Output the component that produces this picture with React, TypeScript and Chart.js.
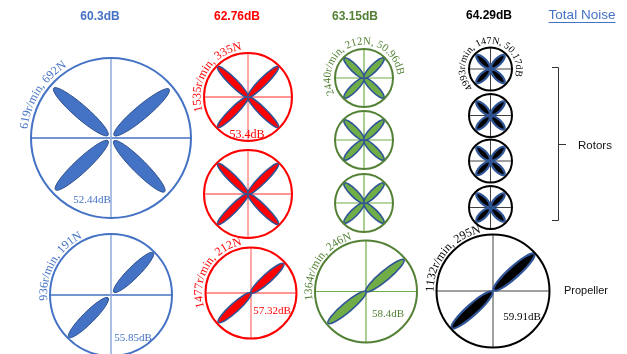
import React, { useEffect, useRef } from 'react';
import { Chart, registerables } from 'chart.js';
Chart.register(...registerables);

const W = 627;
const H = 354;

// ---- data ----
const totalNoise = [60.3, 62.76, 63.15, 64.29];
const rotorCount = [1, 2, 3, 4];
const rotorSpeed = [619, 1535, 2440, 4993];
const rotorThrust = [692, 335, 212, 147];
const rotorNoise = [52.44, 53.4, 50.96, 50.17];
const propSpeed = [936, 1477, 1364, 1132];
const propThrust = [191, 212, 246, 295];
const propNoise = [55.85, 57.32, 58.4, 59.91];
const sideLabels = ['Total Noise', 'Rotors', 'Propeller'];

// ---- styles ----
const styles = [
  { main: '#4472C4', text: '#4472C4', crossH: '#4472C4', crossV: '#8FAADC', crossW: 1.5, fill: '#4472C4', stroke: '#2F528F', bladeLW: 1 },
  { main: '#FF0000', text: '#FF0000', crossH: '#FF2A2A', crossV: '#FF5050', crossW: 1, fill: '#FF0000', stroke: '#2F5597', bladeLW: 1.6 },
  { main: '#538135', text: '#538135', crossH: '#70AD47', crossV: '#70AD47', crossW: 1.2, fill: '#70AD47', stroke: '#2F5597', bladeLW: 1.6 },
  { main: '#000000', text: '#000000', crossH: '#404040', crossV: '#404040', crossW: 1, fill: '#000000', stroke: '#2F5597', bladeLW: 2.2 },
];

// ---- layout (in chart units, 1 unit = 1px) ----
const headerPos = [
  { x: 100, y: 17 },
  { x: 237, y: 17 },
  { x: 355, y: 17 },
  { x: 489, y: 16 },
];
const rotorLayout = [
  { x: 111, ys: [138], r: 80, r0: 4, r1: 76, hw: 6.8, angles: [45, 137, 221, 320],
    label: { start: 186, rad: 84, size: 12 }, dB: { x: 92, y: 200, size: 11 } },
  { x: 248, ys: [97, 194], r: 44, r0: 0, r1: 43, hw: 3.9, angles: [45, 135, 225, 315],
    label: { start: 163, rad: 47.5, size: 12 }, dB: { x: 247, y: 135, size: 12 } },
  { x: 364, ys: [78, 140, 203], r: 29, r0: 0, r1: 28, hw: 3.6, angles: [45, 135, 225, 315],
    label: { start: 152, rad: 33.5, size: 11 }, dB: null },
  { x: 490.5, ys: [69, 115.5, 161, 207.5], r: 21.5, r0: 1.5, r1: 19.5, hw: 3.3, angles: [45, 135, 225, 315],
    label: { start: 134, rad: 25.5, size: 10 }, dB: null },
];
const propLayout = [
  { x: 111, y: 295, r: 61, r0: 4, r1: 60, hw: 5.8, angles: [-45, 135],
    label: { start: 175, rad: 64, size: 12 }, dB: { x: 133, y: 338, size: 11 } },
  { x: 251, y: 293, r: 45.5, r0: 0, r1: 44, hw: 4.4, angles: [-42, 138],
    label: { start: 163, rad: 49, size: 12 }, dB: { x: 272, y: 311, size: 11 } },
  { x: 366, y: 291.5, r: 51, r0: 0, r1: 49.5, hw: 4.8, angles: [-40, 140],
    label: { start: 171, rad: 54, size: 11.5 }, dB: { x: 388, y: 314, size: 11 } },
  { x: 493, y: 291, r: 56.5, r0: 1, r1: 55.5, hw: 5.4, angles: [-42, 138],
    label: { start: 179, rad: 59.5, size: 12 }, dB: { x: 522, y: 317, size: 11 } },
];
const sidePos = [
  { x: 582, y: 15, size: 13.5 },
  { x: 595, y: 146, size: 11.5 },
  { x: 586, y: 291, size: 11 },
];
const bracket = { x: 558, top: 67, bottom: 220, mid: 144, tickIn: 552, tickOut: 566 };

const SERIF = '"Liberation Serif", "Times New Roman", serif';
const SANS = '"Liberation Sans", Arial, sans-serif';

function arcText(ctx: CanvasRenderingContext2D, text: string, cx: number, cy: number, rad: number, startDeg: number, font: string, color: string) {
  ctx.save();
  ctx.font = font;
  ctx.fillStyle = color;
  ctx.textAlign = 'center';
  ctx.textBaseline = 'alphabetic';
  let ang = (startDeg * Math.PI) / 180;
  for (const ch of text) {
    const w = ctx.measureText(ch).width;
    const a = ang + w / 2 / rad;
    ctx.save();
    ctx.translate(cx, cy);
    ctx.rotate(a + Math.PI / 2);
    ctx.fillText(ch, 0, -rad);
    ctx.restore();
    ang += w / rad;
  }
  ctx.restore();
}

export default function App() {
  const ref = useRef<HTMLCanvasElement | null>(null);

  useEffect(() => {
    document.body.style.margin = '0';
    const canvas = ref.current;
    if (!canvas) return;

    const datasets = styles.map((st, i) => {
      const pts: any[] = rotorLayout[i].ys.slice(0, rotorCount[i]).map((y) => ({ x: rotorLayout[i].x, y, r: rotorLayout[i].r }));
      pts.push({ x: propLayout[i].x, y: propLayout[i].y, r: propLayout[i].r });
      return {
        label: `group${i}`,
        data: pts,
        showLine: false,
        clip: false,
        pointRadius: (c: any) => (c.raw ? c.raw.r : 0),
        pointHoverRadius: (c: any) => (c.raw ? c.raw.r : 0),
        pointBorderWidth: 2,
        pointHoverBorderWidth: 2,
        pointBorderColor: st.main,
        pointBackgroundColor: 'rgba(0,0,0,0)',
      };
    });

    const diagram = {
      id: 'diagram',
      beforeDatasetsDraw(chart: any) {
        const ctx: CanvasRenderingContext2D = chart.ctx;
        const xs = chart.scales.x;
        const ysc = chart.scales.y;
        const X = (v: number) => xs.getPixelForValue(v);
        const Y = (v: number) => ysc.getPixelForValue(v);
        const S = (l: number) => X(l) - X(0);

        const cross = (cx: number, cy: number, r: number, st: any) => {
          ctx.save();
          ctx.lineWidth = st.crossW;
          ctx.strokeStyle = st.crossH;
          ctx.beginPath();
          ctx.moveTo(X(cx - r), Y(cy));
          ctx.lineTo(X(cx + r), Y(cy));
          ctx.stroke();
          ctx.strokeStyle = st.crossV;
          ctx.beginPath();
          ctx.moveTo(X(cx), Y(cy - r));
          ctx.lineTo(X(cx), Y(cy + r));
          ctx.stroke();
          ctx.restore();
        };
        const blades = (cx: number, cy: number, lay: any, st: any) => {
          for (const deg of lay.angles) {
            const t = (deg * Math.PI) / 180;
            const m = (lay.r0 + lay.r1) / 2;
            const a = (lay.r1 - lay.r0) / 2;
            ctx.save();
            ctx.beginPath();
            ctx.ellipse(X(cx + m * Math.cos(t)), Y(cy + m * Math.sin(t)), S(a), S(lay.hw), t, 0, Math.PI * 2);
            ctx.fillStyle = st.fill;
            ctx.fill();
            ctx.lineWidth = st.bladeLW;
            ctx.strokeStyle = st.stroke;
            ctx.stroke();
            ctx.restore();
          }
        };

        styles.forEach((st, i) => {
          const rl = rotorLayout[i];
          rl.ys.slice(0, rotorCount[i]).forEach((y) => {
            cross(rl.x, y, rl.r, st);
          });
          rl.ys.slice(0, rotorCount[i]).forEach((y) => {
            blades(rl.x, y, rl, st);
          });
          const pl = propLayout[i];
          cross(pl.x, pl.y, pl.r, st);
          blades(pl.x, pl.y, pl, st);
        });
      },
      afterDatasetsDraw(chart: any) {
        const ctx: CanvasRenderingContext2D = chart.ctx;
        const xs = chart.scales.x;
        const ysc = chart.scales.y;
        const X = (v: number) => xs.getPixelForValue(v);
        const Y = (v: number) => ysc.getPixelForValue(v);
        const S = (l: number) => X(l) - X(0);

        ctx.save();
        // headers
        styles.forEach((st, i) => {
          ctx.font = `bold 12px ${SANS}`;
          ctx.fillStyle = st.text;
          ctx.textAlign = 'center';
          ctx.textBaseline = 'middle';
          ctx.fillText(`${totalNoise[i]}dB`, X(headerPos[i].x), Y(headerPos[i].y));
        });

        // curved labels + dB labels
        styles.forEach((st, i) => {
          const rl = rotorLayout[i];
          const rText = rl.dB
            ? `${rotorSpeed[i]}r/min, ${rotorThrust[i]}N`
            : `${rotorSpeed[i]}r/min, ${rotorThrust[i]}N, ${rotorNoise[i]}dB`;
          arcText(ctx, rText, X(rl.x), Y(rl.ys[0]), S(rl.label.rad), rl.label.start, `${rl.label.size}px ${SERIF}`, st.text);
          if (rl.dB) {
            ctx.font = `${rl.dB.size}px ${SERIF}`;
            ctx.fillStyle = st.text;
            ctx.textAlign = 'center';
            ctx.textBaseline = 'middle';
            ctx.fillText(`${rotorNoise[i]}dB`, X(rl.dB.x), Y(rl.dB.y));
          }
          const pl = propLayout[i];
          arcText(ctx, `${propSpeed[i]}r/min, ${propThrust[i]}N`, X(pl.x), Y(pl.y), S(pl.label.rad), pl.label.start, `${pl.label.size}px ${SERIF}`, st.text);
          ctx.font = `${pl.dB.size}px ${SERIF}`;
          ctx.fillStyle = st.text;
          ctx.textAlign = 'center';
          ctx.textBaseline = 'middle';
          ctx.fillText(`${propNoise[i]}dB`, X(pl.dB.x), Y(pl.dB.y));
        });

        // side labels
        ctx.textAlign = 'center';
        ctx.textBaseline = 'middle';
        ctx.font = `${sidePos[0].size}px ${SANS}`;
        ctx.fillStyle = '#4472C4';
        ctx.fillText(sideLabels[0], X(sidePos[0].x), Y(sidePos[0].y));
        const tw = ctx.measureText(sideLabels[0]).width;
        ctx.strokeStyle = '#4472C4';
        ctx.lineWidth = 1;
        ctx.beginPath();
        ctx.moveTo(X(sidePos[0].x) - tw / 2, Y(sidePos[0].y) + 7.5);
        ctx.lineTo(X(sidePos[0].x) + tw / 2, Y(sidePos[0].y) + 7.5);
        ctx.stroke();

        ctx.fillStyle = '#111111';
        ctx.font = `${sidePos[1].size}px ${SANS}`;
        ctx.fillText(sideLabels[1], X(sidePos[1].x), Y(sidePos[1].y));
        ctx.font = `${sidePos[2].size}px ${SANS}`;
        ctx.fillText(sideLabels[2], X(sidePos[2].x), Y(sidePos[2].y));

        // bracket
        ctx.strokeStyle = '#333333';
        ctx.lineWidth = 1;
        ctx.beginPath();
        ctx.moveTo(X(bracket.tickIn), Y(bracket.top) + 0.5);
        ctx.lineTo(X(bracket.x) + 0.5, Y(bracket.top) + 0.5);
        ctx.lineTo(X(bracket.x) + 0.5, Y(bracket.bottom) + 0.5);
        ctx.lineTo(X(bracket.tickIn), Y(bracket.bottom) + 0.5);
        ctx.moveTo(X(bracket.x) + 0.5, Y(bracket.mid) + 0.5);
        ctx.lineTo(X(bracket.tickOut), Y(bracket.mid) + 0.5);
        ctx.stroke();
        ctx.restore();
      },
    };

    const chart = new Chart(canvas, {
      type: 'scatter',
      data: { datasets: datasets as any },
      options: {
        animation: false,
        responsive: false,
        maintainAspectRatio: false,
        events: [],
        layout: { padding: 0, autoPadding: false },
        scales: {
          x: { type: 'linear', min: 0, max: W, display: false },
          y: { type: 'linear', min: 0, max: H, reverse: true, display: false },
        },
        plugins: {
          legend: { display: false },
          tooltip: { enabled: false },
        },
      },
      plugins: [diagram as any],
    });
    return () => chart.destroy();
  }, []);

  return (
    <div style={{ width: W, height: H, background: '#ffffff' }}>
      <canvas ref={ref} width={W} height={H} style={{ display: 'block', width: W, height: H }} />
    </div>
  );
}
